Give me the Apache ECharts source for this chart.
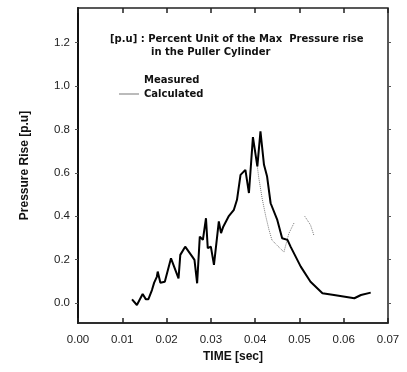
<!DOCTYPE html>
<html>
<head>
<meta charset="utf-8">
<script src="https://cdn.jsdelivr.net/npm/echarts@6/dist/echarts.min.js"></script>
<style>
  html, body { margin: 0; padding: 0; background: #fff; }
  #chart { width: 407px; height: 372px; }
</style>
</head>
<body>
<div id="chart"></div>
<script>
// time [sec], pressure rise [p.u]
const measuredT = [0.0122, 0.0133, 0.0146, 0.0153, 0.0159, 0.0167, 0.0172, 0.0178, 0.0180, 0.0186, 0.0196,
  0.0210, 0.0227, 0.0231, 0.0242, 0.0258, 0.0263, 0.0269, 0.0275, 0.0282, 0.0289, 0.0293, 0.0300,
  0.0307, 0.0318, 0.0323, 0.0328, 0.0340, 0.0352, 0.0359, 0.0367, 0.0378, 0.0386, 0.0395, 0.0405,
  0.0412, 0.0420, 0.0427, 0.0435, 0.0450, 0.0461, 0.0473, 0.0480, 0.0503, 0.0525, 0.0552, 0.0578,
  0.0624, 0.0639, 0.0661];
const measuredP = [0.017, -0.009, 0.042, 0.018, 0.018, 0.060, 0.094, 0.121, 0.145, 0.094, 0.098,
  0.206, 0.114, 0.222, 0.260, 0.214, 0.199, 0.091, 0.306, 0.291, 0.391, 0.253, 0.260,
  0.176, 0.376, 0.322, 0.352, 0.399, 0.430, 0.476, 0.591, 0.614, 0.507, 0.765, 0.630,
  0.791, 0.637, 0.583, 0.460, 0.383, 0.299, 0.291, 0.260, 0.168, 0.098, 0.045, 0.037,
  0.022, 0.037, 0.048];
const calculatedT = [0.0405, 0.0408, 0.0416, 0.0424, 0.0431, 0.0438, 0.0450, 0.0465, 0.0476, 0.0488,
  0.0500, 0.0512, 0.0525, 0.0533];
const calculatedP = [0.630, 0.580, 0.480, 0.400, 0.340, 0.290, 0.265, 0.235, 0.320, 0.370,
  null, 0.400, 0.360, 0.310];
const yTicks = [0.0, 0.2, 0.4, 0.6, 0.8, 1.0, 1.2];

const pair = (xs, ys) => xs.map((x, i) => [x, ys[i]]);

const chart = echarts.init(document.getElementById('chart'));
const font = 'Liberation Sans, DejaVu Sans, sans-serif';
const boldFont = 'DejaVu Sans, Liberation Sans, sans-serif';

chart.setOption({
  animation: false,
  grid: { left: 78, right: 19, top: 8, bottom: 49, show: true, borderColor: '#222', borderWidth: 1.5 },
  legend: {
    orient: 'vertical',
    left: 114,
    top: 70,
    itemGap: 4,
    itemWidth: 20,
    itemHeight: 1,
    textStyle: { fontFamily: boldFont, fontSize: 10, fontWeight: 'bold', color: '#111' },
    data: [
      { name: 'Measured', icon: 'none' },
      { name: 'Calculated', icon: 'rect', itemStyle: { color: '#777' } }
    ]
  },
  graphic: [
    {
      type: 'text', left: 110, top: 34,
      style: { text: '[p.u] : Percent Unit of the Max  Pressure rise', font: 'bold 10px ' + boldFont, fill: '#111' }
    },
    {
      type: 'text', left: 151, top: 47,
      style: { text: 'in the Puller Cylinder', font: 'bold 10px ' + boldFont, fill: '#111' }
    }
  ],
  xAxis: [{
    type: 'value', position: 'bottom', gridIndex: 0,
    min: 0, max: 0.07, interval: 0.01,
    name: 'TIME [sec]',
    nameLocation: 'middle',
    nameGap: 25,
    nameTextStyle: { fontFamily: font, fontSize: 12, fontWeight: 'bold', color: '#111' },
    axisLine: { show: true, onZero: false, lineStyle: { color: '#222', width: 1.5 } },
    axisTick: { show: true, inside: true, length: 5, lineStyle: { color: '#222', width: 1.5 } },
    axisLabel: { margin: 11, fontFamily: font, fontSize: 11.5, color: '#222',
      formatter: v => v.toFixed(2) },
    splitLine: { show: false }
  }, {
    type: 'value', position: 'top', gridIndex: 0,
    min: 0, max: 0.07, interval: 0.01,
    axisLine: { show: false, onZero: false },
    axisTick: { show: true, inside: true, length: 5, lineStyle: { color: '#222', width: 1.5 } },
    axisLabel: { show: false },
    splitLine: { show: false }
  }],
  yAxis: [{
    type: 'value', position: 'left', gridIndex: 0,
    min: -0.092, max: 1.36,
    name: 'Pressure Rise [p.u]',
    nameLocation: 'middle',
    nameGap: 47,
    nameTextStyle: { fontFamily: font, fontSize: 12, fontWeight: 'bold', color: '#111' },
    axisLine: { show: true, onZero: false, lineStyle: { color: '#111', width: 2 } },
    axisTick: { show: true, inside: false, length: 3, customValues: yTicks, lineStyle: { color: '#555' } },
    axisLabel: { margin: 8, fontFamily: font, fontSize: 11.5, color: '#222', customValues: yTicks,
      formatter: v => v.toFixed(1) },
    splitLine: { show: false }
  }, {
    type: 'value', position: 'right', gridIndex: 0,
    min: -0.092, max: 1.36,
    axisLine: { show: false, onZero: false },
    axisTick: { show: true, inside: false, length: 3, customValues: yTicks, lineStyle: { color: '#555' } },
    axisLabel: { show: false },
    splitLine: { show: false }
  }],
  series: [
    {
      name: 'Measured',
      type: 'line',
      symbol: 'none',
      data: pair(measuredT, measuredP),
      lineStyle: { color: '#000', width: 2 },
      itemStyle: { color: '#000' },
      z: 3
    },
    {
      name: 'Calculated',
      type: 'line',
      symbol: 'none',
      connectNulls: false,
      data: pair(calculatedT, calculatedP),
      lineStyle: { color: '#777', width: 1, type: 'dotted' },
      itemStyle: { color: '#777' },
      z: 2
    }
  ]
});
</script>
</body>
</html>
